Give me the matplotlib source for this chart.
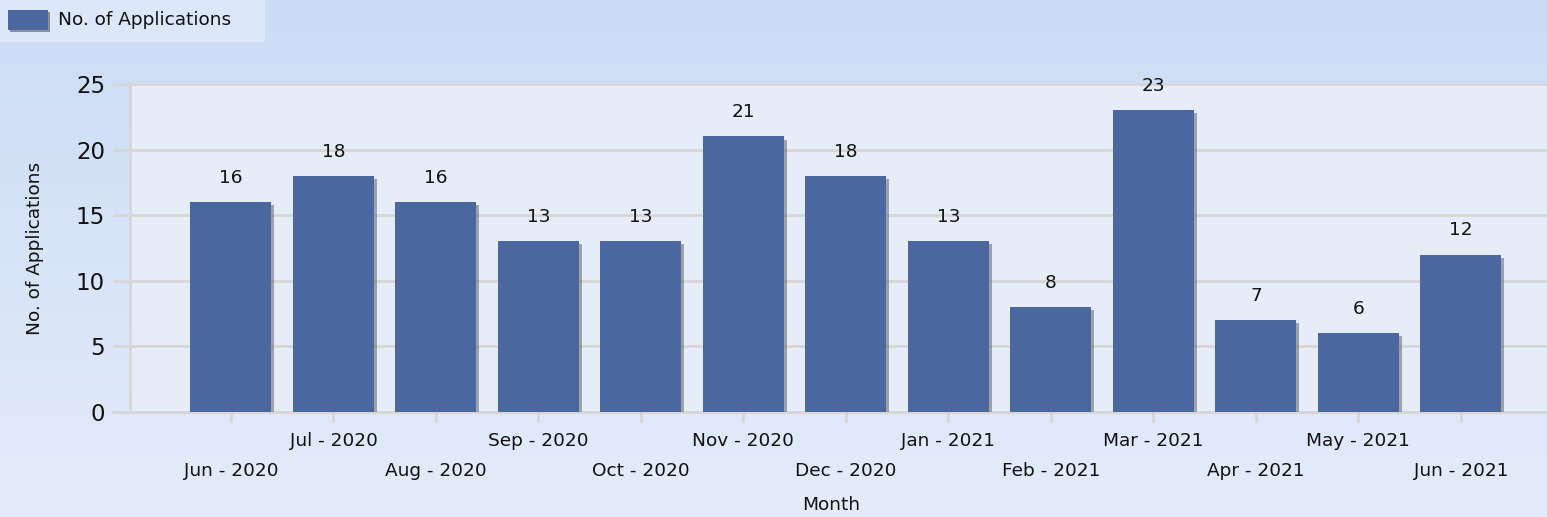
import numpy as np
import matplotlib
matplotlib.use("Agg")
import matplotlib.pyplot as plt
import matplotlib.patheffects as pe
from matplotlib.patches import Rectangle

months = ["Jun - 2020", "Jul - 2020", "Aug - 2020", "Sep - 2020", "Oct - 2020",
          "Nov - 2020", "Dec - 2020", "Jan - 2021", "Feb - 2021", "Mar - 2021",
          "Apr - 2021", "May - 2021", "Jun - 2021"]
applications = [16, 18, 16, 13, 13, 21, 18, 13, 8, 23, 7, 6, 12]
y_ticks = [0, 5, 10, 15, 20, 25]

W, H = 1547, 517
fig = plt.figure(figsize=(W / 100, H / 100), dpi=100)
plt.rcParams['font.family'] = ['DejaVu Sans']

# background gradient
bg = fig.add_axes([0, 0, 1, 1], zorder=-10)
grad = np.linspace(0, 1, 256)[:, None]
top = np.array([0.796, 0.863, 0.961])
bot = np.array([0.894, 0.925, 0.980])
img = top[None, None, :] * (1 - grad[:, :, None]) + bot[None, None, :] * grad[:, :, None]
bg.imshow(img, aspect='auto', extent=[0, 1, 0, 1])
bg.set_axis_off()

# legend box
bg.add_patch(Rectangle((0, 1 - 42 / H), 265 / W, 42 / H, transform=bg.transAxes,
                       facecolor='#dce7f9', edgecolor='none'))
bg.add_patch(Rectangle((8 / W, 1 - 30 / H), 40 / W, 20 / H, transform=bg.transAxes,
                       facecolor='#4a67a0', edgecolor='none',
                       path_effects=[pe.SimplePatchShadow(offset=(1.5, -1.5), shadow_rgbFace='#555555', alpha=0.6), pe.Normal()]))
bg.text(58 / W, 1 - 20 / H, "No. of Applications", transform=bg.transAxes,
        fontsize=13.3, va='center', ha='left', color='#111111')
bg.set_xlim(0, 1); bg.set_ylim(0, 1)

# main axes
left, right = 130, 1547
top_px, bot_px = 84, 412
ax = fig.add_axes([left / W, 1 - bot_px / H, (right - left) / W, (bot_px - top_px) / H])
ax.set_facecolor('#e6edf9')

x = np.arange(len(months))
bars = ax.bar(x, applications, width=0.79, color='#4a67a0', zorder=3,
              path_effects=[pe.SimplePatchShadow(offset=(2.2, -2.2), shadow_rgbFace='#666666', alpha=0.55), pe.Normal()])

for xi, v in zip(x, applications):
    ax.annotate(str(v), (xi, v), xytext=(0, 11), textcoords='offset points',
                ha='center', va='bottom', fontsize=13.3, color='#111111', zorder=5)

ax.set_xlim(-0.985, 12.84)
ax.set_ylim(0, 25)
ax.set_yticks(y_ticks)
ax.set_yticklabels([str(t) for t in y_ticks], fontsize=16.5, color='#111111')
ax.grid(axis='y', color='#d6d6d6', linewidth=2, zorder=0)
ax.tick_params(axis='y', length=12, width=2, color='#d6d6d6', pad=6)

ax.set_xticks(x)
ax.set_xticklabels(months)
for i, lbl in enumerate(ax.get_xticklabels()):
    lbl.set_fontsize(13.3)
    lbl.set_color('#111111')
    if i % 2 == 0:
        lbl.set_y(-0.105)
    else:
        lbl.set_y(-0.015)
ax.tick_params(axis='x', length=7, width=2, color='#d6d6d6', pad=4)

ax.spines['right'].set_visible(False)
for s in ['top', 'left', 'bottom']:
    ax.spines[s].set_color('#d6d6d6')
    ax.spines[s].set_linewidth(2)
ax.spines['bottom'].set_bounds(-0.985 - 17 / 102.5, 12.84)

ax.set_xlabel("Month", fontsize=13.3, color='#111111', labelpad=0)
ax.xaxis.set_label_coords(0.495, -0.255)
ax.set_ylabel("No. of Applications", fontsize=13.3, color='#111111')
ax.yaxis.set_label_coords(-0.0607, 0.5)

fig.savefig("out.png", dpi=100)
